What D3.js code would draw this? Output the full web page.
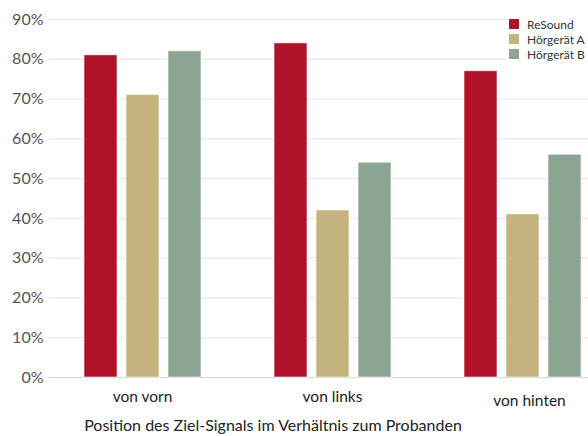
<!DOCTYPE html>
<html>
<head>
<meta charset="utf-8">
<script src="https://cdn.jsdelivr.net/npm/d3@7"></script>
<style>
	body { margin: 0; background: #fff; font-family: Lato, "Open Sans", sans-serif; }
	svg { display: block; }
</style>
</head>
<body>
<div id="chart"></div>
<script>
// data
var categories = ['von vorn', 'von links', 'von hinten'];
var seriesNames = ['ReSound', 'Hörgerät A', 'Hörgerät B'];
var resound = [81, 84, 77];
var geraetA = [71, 42, 41];
var geraetB = [82, 54, 56];
var yTicks = [0, 10, 20, 30, 40, 50, 60, 70, 80, 90];
var colors = ['#af1229', '#c4b37f', '#8ca592'];

var params = {
	width: 588,
	height: 436,
	left: 47.5,
	top: 19,
	bottom: 377
};

function buildRows(){
	return categories.map(function(c, i){
		return {cat: c, vals: [resound[i], geraetA[i], geraetB[i]]};
	});
}

function createChart(){
	var rows = buildRows();

	var svg = d3.select('#chart').append('svg')
		.attr('width', params.width)
		.attr('height', params.height);

	var x0 = d3.scaleBand()
		.domain(categories)
		.range([params.left, params.left + 570]);

	// bars 33px wide, 42px apart
	var x1 = d3.scaleBand()
		.domain(seriesNames)
		.range([36.5, 36.5 + 117])
		.paddingInner(9 / 42)
		.paddingOuter(0);

	var y = d3.scaleLinear()
		.domain([0, 90])
		.range([params.bottom, params.top]);

	// gridlines + y labels
	var yAxis = svg.append('g')
		.attr('transform', 'translate(' + (params.left + 1) + ',0)')
		.call(d3.axisLeft(y).tickValues(yTicks).tickSize(-(params.width)).tickFormat(function(d){ return d + '%'; }).tickPadding(5));
	yAxis.select('.domain').remove();
	yAxis.selectAll('.tick line')
		.attr('stroke', function(d){ return d == 0 ? '#d6d6d6' : '#e8e8e8'; })
		.attr('stroke-width', 1.2);
	yAxis.selectAll('.tick text')
		.attr('fill', '#555')
		.style('font-size', '16px')
		.style('font-family', 'Lato, sans-serif');

	// bars
	var groups = svg.selectAll('g.grp')
		.data(rows)
		.enter()
		.append('g')
			.attr('class', 'grp')
			.attr('transform', function(d){ return 'translate(' + x0(d.cat) + ',0)'; });

	groups.selectAll('rect')
		.data(function(d){ return d.vals.map(function(v, i){ return {name: seriesNames[i], v: v, i: i}; }); })
		.enter()
		.append('rect')
			.attr('x', function(d){ return x1(d.name); })
			.attr('y', function(d){ return y(d.v); })
			.attr('width', x1.bandwidth())
			.attr('height', function(d){ return y(0) - y(d.v); })
			.attr('fill', function(d){ return colors[d.i]; })
			.attr('stroke', 'rgba(255,255,255,0.6)')
			.attr('stroke-width', 1);

	// category labels
	var xAxis = svg.append('g')
		.attr('transform', 'translate(0,' + params.bottom + ')')
		.call(d3.axisBottom(x0).tickSize(0).tickPadding(20));
	xAxis.select('.domain').remove();
	xAxis.selectAll('.tick text')
		.attr('fill', '#222')
		.style('font-size', '15.5px')
		.style('font-family', 'Lato, sans-serif')
		.attr('dy', '0.3em');
	xAxis.selectAll('.tick')
		.filter(function(d){ return d == 'von hinten'; })
		.select('text').attr('dx', 7).attr('dy', '0.55em');

	// axis title
	svg.append('text')
		.attr('x', 273)
		.attr('y', 431)
		.attr('text-anchor', 'middle')
		.attr('fill', '#222')
		.style('font-size', '16px')
		.style('font-family', 'Lato, sans-serif')
		.text('Position des Ziel-Signals im Verhältnis zum Probanden');

	// legend
	var legend = svg.append('g')
		.attr('transform', 'translate(505,14)');
	legend.append('rect')
		.attr('width', 90)
		.attr('height', 50)
		.attr('fill', '#fff');
	var items = legend.selectAll('g.item')
		.data(seriesNames)
		.enter()
		.append('g')
			.attr('class', 'item')
			.attr('transform', function(d, i){ return 'translate(4,' + (5 + i * 15) + ')'; });
	items.append('rect')
		.attr('width', 10)
		.attr('height', 10)
		.attr('fill', function(d, i){ return colors[i]; });
	items.append('text')
		.attr('x', 18)
		.attr('y', 9.5)
		.attr('fill', '#333')
		.style('font-size', '12px')
		.style('font-family', 'Lato, sans-serif')
		.text(function(d){ return d; });
}

createChart();
</script>
</body>
</html>
